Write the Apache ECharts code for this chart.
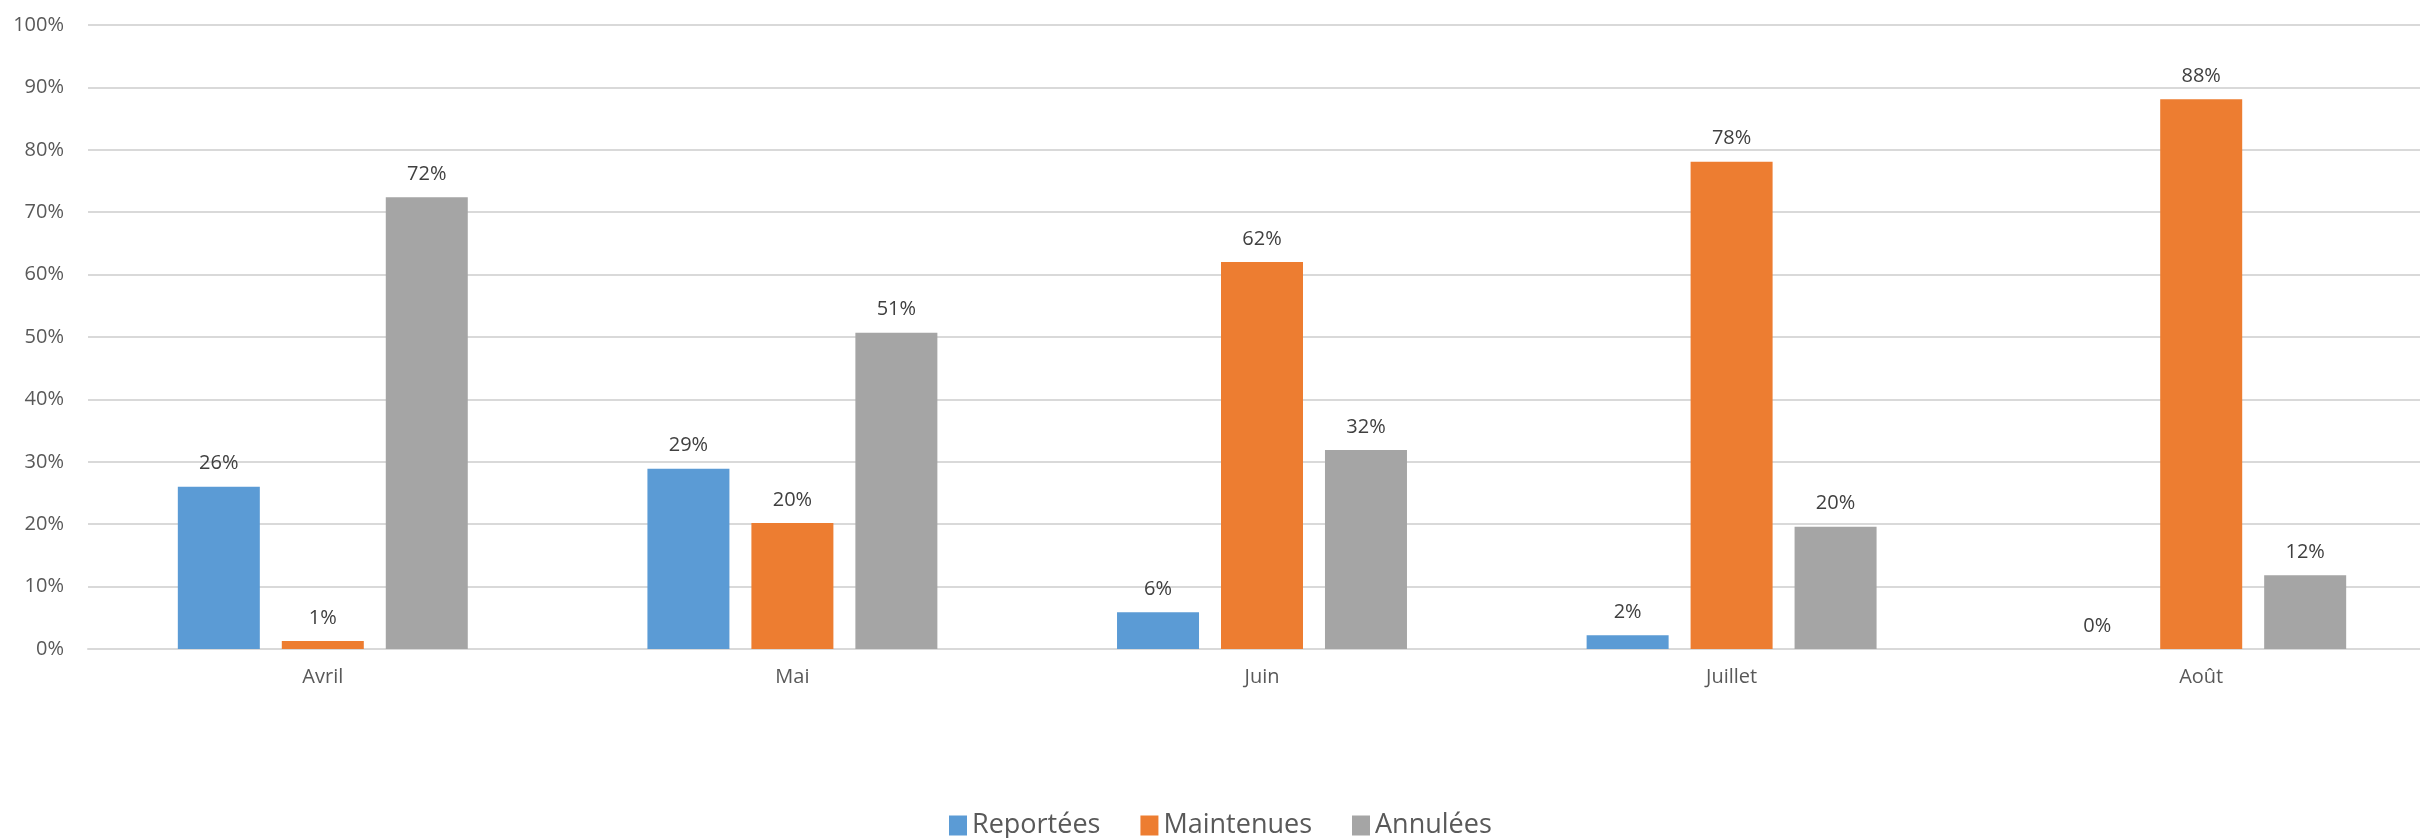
<!DOCTYPE html>
<html><head><meta charset="utf-8">
<script src="https://cdn.jsdelivr.net/npm/echarts@6/dist/echarts.min.js"></script>
<style>html,body{margin:0;padding:0;background:#fff;overflow:hidden;width:2420px;height:838px}#c{width:2436px;height:838px}</style>
</head><body><div id="c"></div>
<script>
const categories = ['Avril', 'Mai', 'Juin', 'Juillet', 'Août'];
const reportees = [26.0, 28.9, 5.9, 2.2, 0];
const maintenues = [1.3, 20.2, 62.0, 78.1, 88.1];
const annulees = [72.4, 50.7, 31.9, 19.6, 11.8];
const seriesNames = ['Reportées', 'Maintenues', 'Annulées'];
const colors = ['#5B9BD5', '#ED7D31', '#A5A5A5'];

const FONT = '"Open Sans", sans-serif';
const chart = echarts.init(document.getElementById('c'));
const mk = (name, data, color) => ({
  name, type: 'bar', data, barWidth: 82, barGap: '26.8%',
  itemStyle: { color },
  label: { show: true, position: 'top', distance: 13, color: '#404040', fontSize: 20, fontFamily: FONT,
    formatter: p => Math.round(p.value) + '%' }
});
chart.setOption({
  animation: false,
  color: colors,
  textStyle: { fontFamily: FONT },
  grid: { left: 88, top: 25, right: 0, bottom: 189, containLabel: false },
  legend: {
    data: seriesNames, top: 807, left: 944, itemWidth: 18, itemHeight: 20, itemGap: 40,
    icon: 'rect',
    textStyle: { fontSize: 27, color: '#595959', fontFamily: FONT }
  },
  xAxis: {
    type: 'category', data: categories,
    axisLine: { lineStyle: { color: '#d9d9d9', width: 2 } },
    axisTick: { show: false },
    axisLabel: { color: '#595959', fontSize: 20, margin: 18, fontFamily: FONT }
  },
  yAxis: {
    type: 'value', min: 0, max: 100, interval: 10,
    axisLine: { show: false }, axisTick: { show: false },
    splitLine: { lineStyle: { color: '#d9d9d9', width: 2 } },
    axisLabel: { color: '#595959', fontSize: 20, margin: 24, formatter: '{value}%', fontFamily: FONT }
  },
  series: [
    mk(seriesNames[0], reportees, colors[0]),
    mk(seriesNames[1], maintenues, colors[1]),
    mk(seriesNames[2], annulees, colors[2])
  ]
});
</script></body></html>
